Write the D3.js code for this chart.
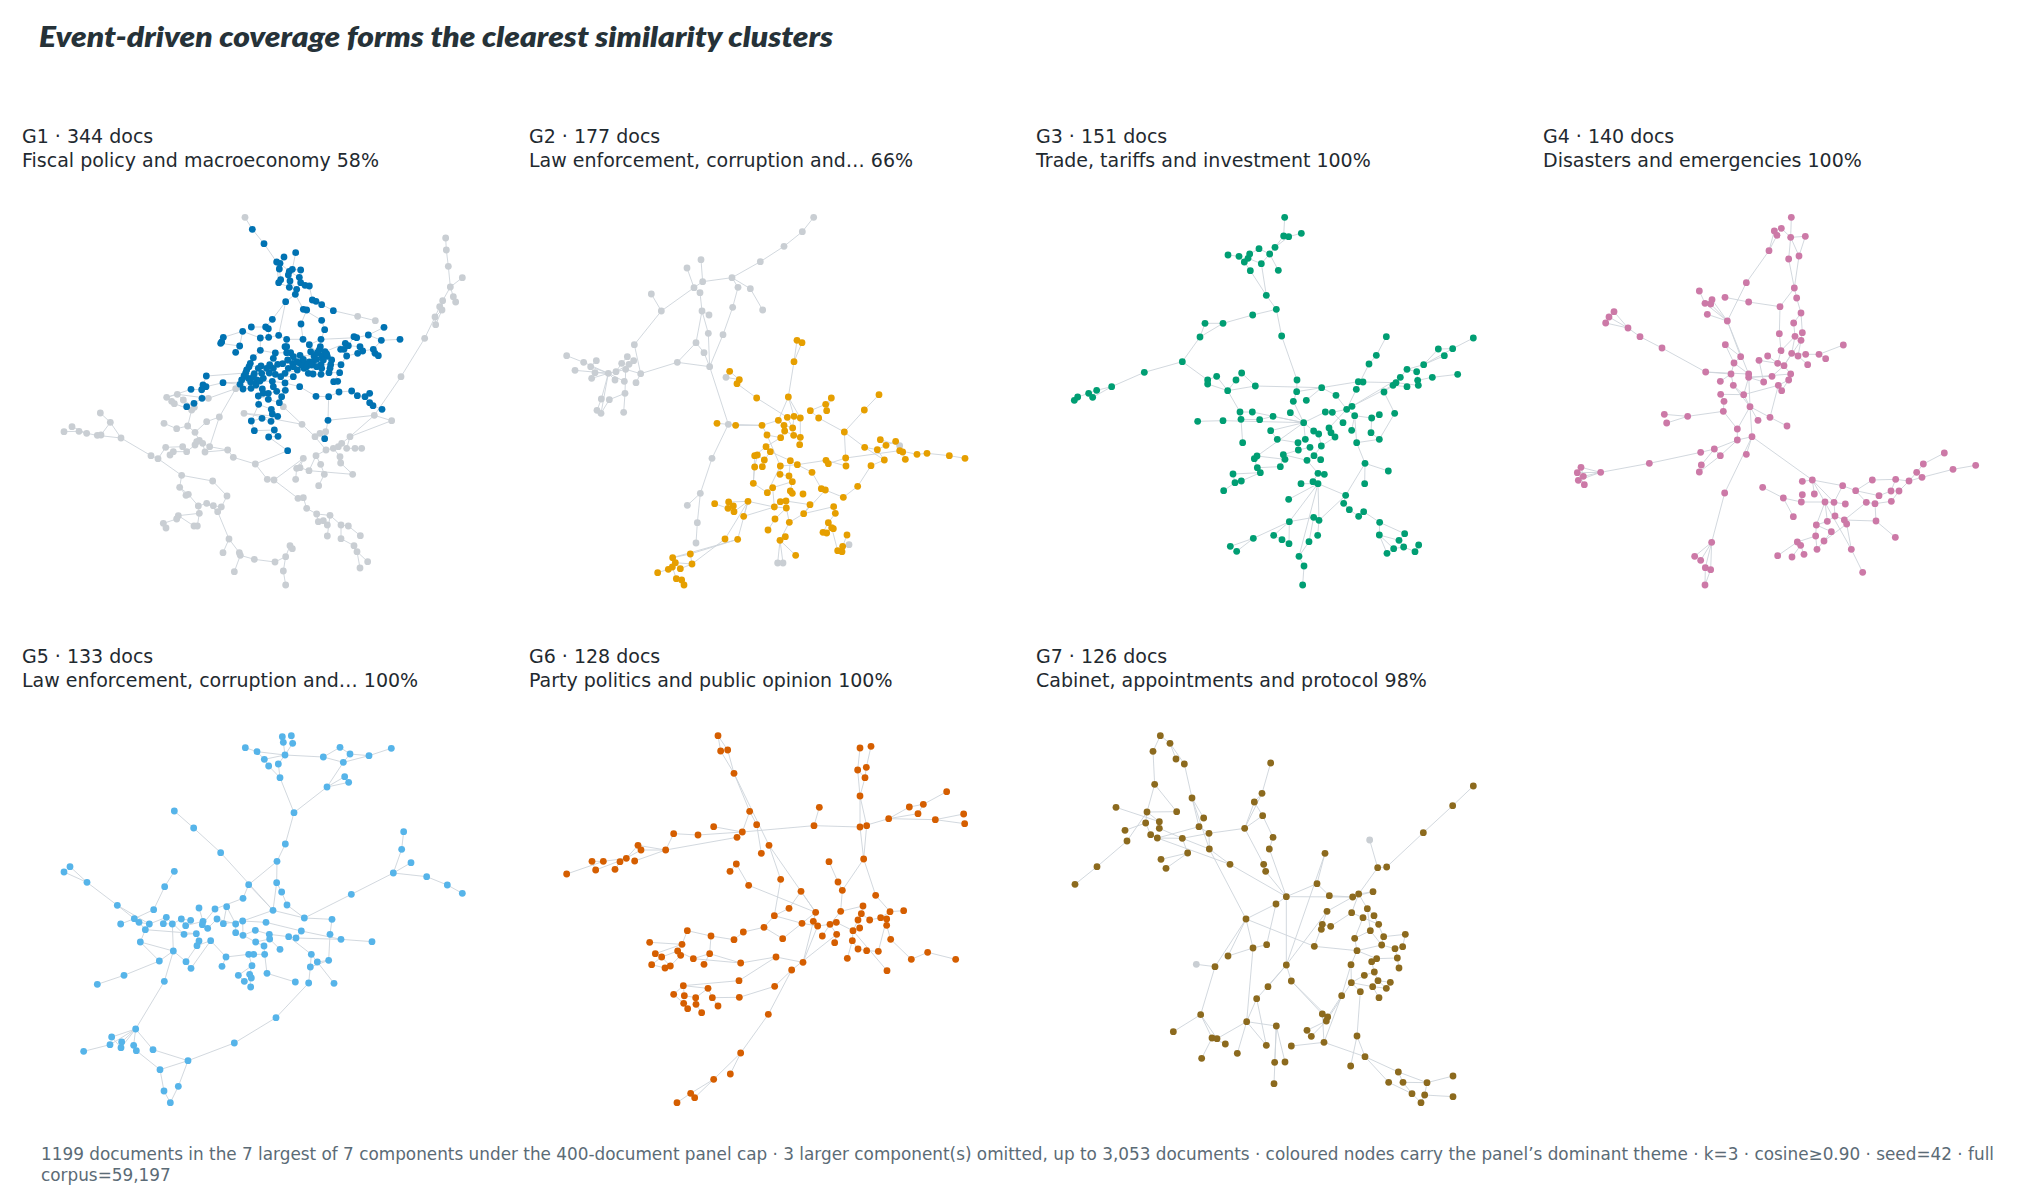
<!DOCTYPE html>
<html>
<head>
<meta charset="utf-8">
<script src="https://cdn.jsdelivr.net/npm/d3@7"></script>
<style>
  body { margin: 0; background: #fff; }
  svg  { display: block; }
</style>
</head>
<body>
<svg id="chart" width="2040" height="1200"></svg>
<script>
/* ─────────────────────────────────────────
   Panel headers
───────────────────────────────────────── */
const panelIds    = ['G1', 'G2', 'G3', 'G4', 'G5', 'G6', 'G7'];
const panelDocs   = [344, 177, 151, 140, 133, 128, 126];
const panelThemes = [
  'Fiscal policy and macroeconomy',
  'Law enforcement, corruption and\u2026',
  'Trade, tariffs and investment',
  'Disasters and emergencies',
  'Law enforcement, corruption and\u2026',
  'Party politics and public opinion',
  'Cabinet, appointments and protocol',
];
const panelShares = ['58%', '66%', '100%', '100%', '100%', '100%', '98%'];
const themeColors = ['#0072B2', '#E69F00', '#009E73', '#CC79A7', '#56B4E9', '#D55E00', '#8C6A1E'];

/* ─────────────────────────────────────────
   Node layouts (layout units 0..1320 x 0..1200)
   [id, x, y]; links are chains of ids joined by '-'
───────────────────────────────────────── */
const g1ThemeNodes = [
  ['b1',637,88],['b2',672,131],['b3',767,158],['b4',732,171],['b5',710,186],['b6',718,207],['b7',720,190],['b8',748,214],
  ['b9',757,208],['b10',782,210],['b11',722,239],['b12',716,248],['b13',745,225],['b14',750,243],['b15',778,232],['b16',782,248],
  ['b17',795,256],['b18',808,258],['b19',770,268],['b20',748,262],['b21',766,283],['b22',737,305],['b23',817,300],['b24',828,304],
  ['b25',845,314],['b26',790,328],['b27',800,330],['b28',880,332],['b29',845,361],['b30',697,358],['b31',783,372],['b32',854,389],
  ['c1',634,381],['c2',608,394],['c3',677,381],['c4',685,386],['c5',716,406],['c6',661,414],['c7',686,412],['c8',550,412],
  ['c9',545,426],['c10',542,430],['c11',599,438],['c12',587,457],['c13',661,451],['c14',740,418],['c15',735,440],['c16',789,418],
  ['c17',808,434],['c18',843,418],['c19',841,440],['c20',855,455],['c21',832,458],['c22',640,473],['c23',706,459],['c24',740,458],
  ['c25',752,458],['c26',780,466],['c27',822,468],['c28',846,468],['c29',862,469],['c30',875,480],['c31',631,490],['c32',627,500],
  ['c33',663,498],['c34',689,494],['c35',713,493],['c36',728,491],['c37',758,490],['c38',778,488],['c39',794,490],['c40',808,486],
  ['c41',820,484],['c42',843,494],['c43',872,494],['c44',903,494],['c45',617,519],['c46',643,521],['c47',665,520],['c48',688,519],
  ['c49',706,523],['c50',735,520],['c51',772,510],['c52',792,505],['c53',819,522],['c54',843,523],['c55',867,518],['c56',899,518],
  ['c57',632,546],['c58',660,543],['c59',697,544],['c60',735,549],['c61',779,560],['c62',881,545],['c63',893,544],['c64',609,567],
  ['c65',633,565],['c66',667,567],['c67',685,580],['c68',710,574],['c69',736,571],['c70',655,588],['c71',685,598],['c72',718,608],
  ['c73',656,613],['c74',694,628],['c75',713,649],['c76',697,642],['c77',634,663],['c78',666,655],['c79',693,664],['c80',643,692],
  ['c81',703,690],['c82',686,711],['c83',714,709],['c84',743,752],['c85',828,589],['c86',866,590],['c87',897,576],['c88',864,661],
  ['c89',854,716],['c90',935,573],['c91',952,587],['c92',975,590],['c93',989,580],['c94',989,608],['c95',999,617],['c96',1026,628],
  ['d1',942,410],['d2',950,413],['d3',985,405],['d4',1032,382],['d5',1080,418],['d6',1024,421],['d7',916,430],['d8',912,448],
  ['d9',925,437],['d10',960,440],['d11',920,468],['d12',953,460],['d13',968,453],['d14',1000,448],['d15',1005,460],['d16',1015,467],
  ['d17',902,448],
  ['e1',499,528],['e2',489,555],['e3',498,560],['e4',485,569],['e5',453,568],['e6',549,548],['e7',486,595],['e8',462,610],
  ['e9',440,620],['e10',600,553],
  ['f1',620,510],['f2',612,528],['f3',625,535],['f4',640,530],['f5',650,540],['f6',648,555],['f7',670,535],['f8',680,505],
  ['f9',700,505],['f10',722,530],['f11',745,505],['f12',760,500],['f13',785,495],['f14',800,500],['f15',815,495],['f16',830,478],
  ['f17',850,480],['f18',860,462],['f19',838,450],['f20',830,500],['f21',805,520],['f22',760,530],['f23',770,485],['f24',790,478],
  ['f25',743,480],['f26',655,505],['f27',605,540],['f28',670,580],['f29',700,560],['f30',725,590],['f31',760,470],['f32',812,455],
  ['f33',870,505],['f34',845,505],['f35',740,440],['f36',700,475],
];
const g1OtherNodes = [
  ['g1',615,52],['g2',1217,114],['g3',1219,150],['g4',1225,199],['g5',1267,233],['g6',1231,261],['g7',1240,290],['g8',1247,306],
  ['g9',1208,302],['g10',1199,320],['g11',1206,330],['g12',1185,351],['g13',1187,374],['g14',1154,415],['g15',1083,530],['g16',1003,646],
  ['g17',1055,662],['g18',953,349],['g19',1006,362],
  ['h1',380,592],['h2',395,604],['h3',412,583],['h4',403,611],['h5',430,600],['h6',505,595],['h7',587,566],['h8',538,651],
  ['h9',455,630],['h10',463,622],['h11',372,670],['h12',410,686],['h13',443,678],['h14',465,697],['h15',478,721],['h16',488,730],
  ['h17',509,740],['h18',465,735],['h19',440,755],['h20',428,740],['h21',400,755],['h22',390,765],['h23',377,742],['h24',495,756],
  ['h25',563,750],['h26',580,772],['h27',646,792],['h28',181,639],['h29',211,667],['h30',243,714],['h31',183,705],['h32',172,706],
  ['h33',140,700],['h34',117,694],['h35',96,680],['h36',72,695],['h37',333,767],['h38',354,776],['h39',425,826],['h40',518,843],
  ['h41',419,862],['h42',445,883],['h43',438,886],['h44',561,888],['h45',475,918],['h46',500,910],['h47',520,917],['h48',544,921],
  ['h49',533,935],['h50',478,940],['h51',415,947],['h52',410,957],['h53',370,970],['h54',378,984],['h55',462,978],['h56',472,978],
  ['h57',567,1017],['h58',549,1058],['h59',598,1058],['h60',601,1066],['h61',643,1078],['h62',705,1086],['h63',737,1070],['h64',750,1037],
  ['h65',757,1046],['h66',730,1113],['h67',737,1155],['h68',583,1115],['h69',682,838],['h70',702,840],['h71',730,620],['h72',786,673],
  ['h73',825,710],['h74',840,700],['h75',857,695],['h76',790,775],['h77',770,805],['h78',780,803],['h79',767,838],['h80',807,812],
  ['h81',828,767],['h82',842,793],['h83',853,823],['h84',836,857],['h85',858,750],['h86',880,745],['h87',895,740],['h88',905,730],
  ['h89',920,745],['h90',930,710],['h91',945,745],['h92',965,745],['h93',900,770],['h94',902,789],['h95',938,823],['h96',774,895],
  ['h97',790,893],['h98',800,925],['h99',830,942],['h100',835,965],['h101',850,962],['h102',862,975],['h103',870,946],['h104',862,1008],
  ['h105',903,975],['h106',925,978],['h107',903,1016],['h108',961,1007],['h109',942,1037],['h110',951,1055],['h111',983,1085],['h112',960,1104],
  ['h113',612,640],['h114',500,665],['h115',470,725],
];
const g1Links = ('g1-b1-b2-b5-b6-b11 b4-b7-b8-b13-b14 b3-b9-b10 b5-b12 b8-b15-b16-b17 b9-b13 b12-b20-b19-b21 b14-b19 b17-b18 b16-b19 ' +
  'b21-b22 b21-b26-b27 b18-b23-b24-b25 b24-b28 b26-b29 b27-b31 b29-b32 b22-b30 b15-b17 g2-g3-g4-g6-g9-g10-g12-g14-g15-g16-g17 ' +
  'g5-g6 g7-g8 g6-g7 g9-g11-g12 g11-g13 g12-g13 b28-g18-g19 b22-c5 b30-c3 c1-c3-c4-c7-c5 c2-c6 c6-c7 c5-c14-c15 c14-c16-c17-c18-c19-c20 ' +
  'c17-c21 c8-c9-c10-c11 c11-c12 c6-c13-c22 c13-c23-c24-c25-c26-c27-c28-c29-c30 c15-c24 c19-c28 c21-c27 ' +
  'c22-c31-c32-c33-c34-c35-c36-c37-c38-c39-c40-c41-c42-c43-c44 c30-c43 c31-c45-c46-c47-c48-c49-c50-c51-c52-c53-c54-c55-c56 c44-c56 ' +
  'c45-c57-c58-c59-c60-c61 c56-c62-c63 c57-c64-c65-c66-c67-c68-c69 c66-c70-c71-c72 c70-c73-c74-c75 c74-c76 c73-c77-c78-c79 ' +
  'c77-c80-c81-c82-c83 c82-c84 c61-c85-c86-c87 c86-c88-c89 c87-c90-c91-c92-c93 c92-c94-c95-c96 d1-d2-d3-d4 d3-d6-d5 d7-d8-d9-d10 ' +
  'd9-d1 d10-d12-d13-d14-d15-d16 d11-d12 d17-d8 d11-c44 d2-c18 d7-c20 d14-d6 e1-e2-e3-e4-e5 e3-e6-c57 e4-e7-e8-e9 e6-e10-c64 e1-c45 ' +
  'f1-f2-f3-f4-f5-f6 f4-f7-f8-f9 f8-c34 f9-c35 f10-f22-c60 f11-f12-f13-f14-f15 f15-f16-f17 f17-f18-f19 f20-f21 f13-f20 f23-f24 f12-f23 ' +
  'f25-c36 f26-c33 f27-c64 f28-c70 f29-c68 f30-c72 f31-c26 f32-c27 f33-c55 f34-c54 f35-c15 f36-c35 f1-c45 f3-c57 f5-c58 f7-c47 ' +
  'f10-c50 f14-c52 f16-c41 f19-c21 f21-c53 f22-c51 f24-c39 f29-c59 f30-c69 f31-c25 f32-c19 f33-c43 f34-c42 f35-c24 f36-c23 c2-c11 ' +
  'c8-c2 b31-c16 b32-c18 c88-g16 e9-h5-h3-h1-h2-h4 h5-h10-h9-h13 h4-h9 h3-h6-e7 h7-c64 h7-h8-h17-h25 h8-h114-h14 ' +
  'h11-h12-h13-h14-h15-h16-h17 h15-h18-h19-h20 h18-h115 h19-h21-h22 h20-h23 h16-h24-h25-h26-h27-h69-h70 h28-h29-h30-h37-h38 h29-h31 ' +
  'h30-h32-h33-h34-h36 h33-h35 h38-h23 h38-h39-h41-h43 h39-h40-h44-h48-h47-h46-h45-h50 h45-h42-h41 h48-h49-h57-h58 h46-h49 ' +
  'h50-h51-h52-h53-h54 h55-h56-h50 h51-h55 h57-h59-h60-h61-h62-h63-h64-h65 h63-h66-h67 h60-h68 h70-h96-h97-h98-h99-h100-h101-h102 ' +
  'h99-h103-h105-h106-h108 h103-h104 h105-h107-h109-h110-h111 h110-h112 h70-h76-h78-h80-h95 h76-h77-h79 h71-h72-h73-h74-h75 ' +
  'h72-h113-c75 h73-h85-h86-h87-h88-h89-h91-h92 h88-h90-g16 h86-h93-h94-h95 h85-h81-h82-h83-h84 h80-h81 h71-c72 h6-h7 e5-h1 ' +
  'h27-c84 h89-h90 g17-h90').split(' ');

const g2ThemeNodes = [
  ['o1',747,421],['o2',762,428],['o3',738,485],['o4',545,514],['o5',574,539],['o6',567,551],['o7',626,594],['o8',721,591],
  ['o9',993,584],['o10',949,630],['o11',889,696],['o12',850,594],['o13',833,613],['o14',836,632],['o15',787,632],['o16',812,654],
  ['o17',691,661],['o18',718,652],['o19',738,649],['o20',757,654],['o21',708,676],['o22',734,684],['o23',710,693],['o24',737,706],
  ['o25',757,712],['o26',698,713],['o27',657,705],['o28',755,734],['o29',507,670],['o30',563,676],['o31',642,676],['o32',654,740],
  ['o33',667,755],['o34',620,767],['o35',628,765],['o36',649,780],['o37',620,801],['o38',643,800],['o39',727,782],['o40',697,798],
  ['o41',748,794],['o42',696,823],['o43',723,828],['o44',616,850],['o45',733,845],['o46',727,873],['o47',674,863],['o48',658,878],
  ['o49',733,880],['o50',792,817],['o51',765,882],['o52',834,781],['o53',841,791],['o54',893,774],['o55',894,798],['o56',950,742],
  ['o57',988,749],['o58',1014,736],['o59',997,719],['o60',1043,724],['o61',1055,752],['o62',1064,756],['o63',1072,778],['o64',1009,780],
  ['o65',969,797],['o66',929,859],['o67',1107,763],['o68',1137,760],['o69',1204,767],['o70',1251,775],['o71',820,866],['o72',832,870],
  ['o73',886,892],['o74',600,904],['o75',542,906],['o76',556,918],['o77',540,925],['o78',500,911],['o79',558,935],['o80',587,949],
  ['o81',679,921],['o82',697,905],['o83',714,903],['o84',786,914],['o85',715,924],['o86',767,941],['o87',681,957],['o88',724,967],
  ['o89',660,990],['o90',857,920],['o91',862,940],['o92',841,968],['o93',856,986],['o94',825,997],['o95',836,999],['o96',851,983],
  ['o97',696,1021],['o98',712,1010],['o99',743,1066],['o100',897,1005],['o101',869,1052],['o102',882,1055],['o103',884,1039],['o104',531,1017],
  ['o105',569,1018],['o106',427,1062],['o107',432,1092],['o108',374,1073],['o109',382,1088],['o110',361,1108],['o111',397,1106],['o112',329,1118],
  ['o113',373,1101],['o114',385,1136],['o115',401,1140],['o116',408,1155],
];
const g2OtherNodes = [
  ['g1',797,52],['g2',763,95],['g3',708,139],['g4',637,185],['g5',552,233],['g6',464,245],['g7',459,179],['g8',417,204],
  ['g9',438,263],['g10',456,278],['g11',570,262],['g12',607,266],['g13',644,330],['g14',554,322],['g15',525,404],['g16',310,282],
  ['g17',340,333],['g18',462,333],['g19',483,345],['g20',481,400],['g21',444,428],['g22',468,458],['g23',485,500],['g24',388,487],
  ['g25',259,434],['g26',278,521],['g27',56,467],['g28',107,487],['g29',145,482],['g30',128,500],['g31',81,511],['g32',141,518],
  ['g33',131,535],['g34',181,520],['g35',204,515],['g36',221,490],['g37',238,470],['g38',243,493],['g39',257,482],['g40',233,508],
  ['g41',201,540],['g42',229,544],['g43',264,548],['g44',231,580],['g45',227,637],['g46',184,599],['g47',160,597],['g48',147,631],
  ['g49',159,640],['g50',541,673],['g51',492,775],['g52',457,880],['g53',418,916],['g54',448,968],['g55',444,1029],['g56',689,1089],
  ['g57',705,1089],['g58',903,1034],['g59',534,532],['g60',1055,737],
];
const g2Links = ('g1-g2-g3-g4-g5-g6-g9-g17-g25-g26 g7-g6 g8-g9 g5-g11-g14-g15-g23 g12-g13 g5-g12 g9-g10-g18-g21-g24 g18-g19 ' +
  'g18-g20-g23 g21-g22-g23 g24-g26 g24-g23 g16-g17 g27-g28-g34 g29-g30-g34 g31-g34 g32-g34 g33-g34 g34-g35-g36-g37 g35-g38-g39 ' +
  'g35-g40-g26 g34-g41 g34-g42 g40-g44-g45 g34-g47-g48-g49 g46-g44 g46-g49 g43-g26 g23-g50-g51-g52-g53 g52-g54-g55 g49-g34 ' +
  'o1-o2-o3-o8 o1-o3 o4-o5-o6-o7 o4-g59 g59-o5 o7-o18 o8-o17 o8-o19 o8-o20 o9-o10-o11-o56 o11-o54 o12-o13-o15 o12-o14 o15-o16-o11 ' +
  'o17-o21-o22-o19 o18-o22 o20-o25 o21-o23-o26-o27-o31-g50 o29-g50-o30-o31 o31-o17 o23-o24-o25-o28 o22-o24 o26-o32-o34-o35-o37-o44 ' +
  'o32-o33-o36-o38 o35-o36 o33-o39-o41-o40-o42-o43 o39-o43-o45-o46-o49 o41-o50 o41-o52-o53-o54 o52-o55 o50-o71-o72-o73-o66-o65 ' +
  'o56-o57-o58-o59 o56-o64-o65 o58-o60-o61-o62-o63 o61-o67-o68-o69-o70 o54-o61 o44-o48-o47-o45 o47-o81-o82-o83 o74-o80 o74-o81 ' +
  'o75-o76-o77 o78-o77 o79-o76 o74-o75 o74-o79 o81-o85-o87 o83-o84-o86 o85-o88-o86 o87-o89 o88-o97-o98 o97-o99 ' +
  'o86-o90-o91-o92-o93-o96-o95-o94 o92-o94 o96-o101-o102-o103-o100 o101-g58 o103-g58 o97-g56 o97-g57 o74-o104 o74-o105 ' +
  'o105-o106-o107-o111 o106-o108-o113-o110-o112 o109-o111 o113-o114-o115-o116 o109-o107 o105-o108 o104-o107 o40-o48 o34-o44 ' +
  'o60-g60 o59-g60 o64-o57 o27-o40 o72-o86 o80-o81').split(' ');

const g3ThemeNodes = [
  ['a1',683,52],['a2',680,108],['a3',695,110],['a4',733,100],['a5',654,142],['a6',638,162],['a7',606,146],['a8',578,162],
  ['a9',573,175],['a10',562,186],['a11',546,169],['a12',513,165],['a13',613,191],['a14',580,212],['a15',664,211],
  ['p1',628,286],['p2',658,328],['p3',587,345],['p4',498,370],['p5',444,370],['p6',429,411],['p7',376,485],['p8',262,517],
  ['p9',164,560],['p10',119,571],['p11',95,580],['p12',107,592],['p13',62,591],['p14',52,601],['p15',674,408],
  ['q1',720,540],['q2',719,575],['q3',709,604],['q4',748,601],['q5',794,563],['q6',837,586],['q7',740,668],['q8',700,638],
  ['q9',805,636],['q10',826,637],['q11',869,628],['q12',885,619],['q13',893,647],['q14',858,668],['q15',884,691],['q16',899,728],
  ['q17',944,654],['q18',967,644],['q19',942,698],['q20',967,718],['q21',1013,640],['q22',898,568],['q23',904,545],['q24',918,546],
  ['q25',936,492],['q26',958,466],['q27',988,410],
  ['r1',479,529],['r2',452,540],['r3',452,552],['r4',512,572],['r5',537,540],['r6',554,519],['r7',595,558],['r8',549,636],
  ['r9',586,636],['r10',552,658],['r11',608,659],['r12',648,649],['r13',422,664],['r14',498,662],['r15',641,692],['r16',661,718],
  ['r17',557,728],
  ['s1',770,693],['s2',785,702],['s3',745,718],['s4',723,728],['s5',793,738],['s6',759,742],['s7',724,750],['s8',816,684],
  ['s9',822,698],['s10',834,711],['s11',679,764],['s12',684,778],['s13',750,781],['s14',771,767],['s15',791,779],['s16',600,768],
  ['s17',592,776],['s18',601,803],['s19',610,818],['s20',670,800],['s21',528,822],['s22',534,848],['s23',553,843],['s24',500,872],
  ['s25',783,820],['s26',802,823],['s27',768,845],['s28',783,851],['s29',732,851],['s30',695,898],['s31',924,790],['s32',994,813],
  ['s33',923,851],['s34',866,886],['s35',860,910],['s36',877,929],['s37',905,949],['s38',920,935],
  ['t1',981,576],['t2',1008,556],['t3',1017,548],['t4',1030,532],['t5',1050,508],['t6',1079,515],['t7',1082,541],['t8',1084,556],
  ['t9',1050,560],['t10',1100,494],['t11',1126,532],['t12',1202,523],['t13',1144,447],['t14',1162,467],['t15',1187,446],['t16',1249,414],
  ['u1',697,965],['u2',770,952],['u3',786,961],['u4',650,1006],['u5',675,1019],['u6',696,1031],['u7',756,1025],['u8',782,1006],
  ['u9',589,1015],['u10',520,1039],['u11',539,1054],['u12',726,1069],['u13',741,1098],['u14',737,1155],
  ['v1',968,967],['v2',967,1005],['v3',1043,1001],['v4',1026,1021],['v5',1040,1041],['v6',1010,1046],['v7',990,1060],['v8',1085,1035],
  ['v9',1074,1055],
];
const g3OtherNodes = [];
const g3Links = ('a1-a2-a5-a6-a13 a2-a3-a4 a6-a7-a8-a10-a11-a12 a9-a13 a10-a14 a6-a15 a5-a3 a14-p1-a13 ' +
  'p1-p2-p3-p4-p6-p7-p8-p9-p10-p11-p13-p14 p4-p5-p6 p10-p12-p11 p9-p12 p2-p15-q1-q2-q3-q7 q2-q5-q4 q5-q23-q24-t3 q22-q25-q26-q27 ' +
  'q22-q11-q12-t2 q5-q6-q11 q7-q9-q10-q11-q13-q17-q18 q17-q19-q20-q21-t1 q13-q16-q20 q14-q10 q15-q13 q8-q7 q12-t4 ' +
  'p7-r2-r3-r4-r7-q5 r1-r2 r1-r4 r5-r6-r7 r5-r4 r8-r9-q7 r13-r14-q7 r10-r11-r12-q7 r10-r17 r15-q7 r15-r16-s4 r8-r4 r10-r8 ' +
  'q7-s1-s2-s5-s14-s13 s14-s15 s3-s4-s7-s6 s3-q7 s8-s9-s10-s5 s8-q11 s11-s12-s16-s17-s18-s19-s21-s22-s24 s22-s23-s19 s11-s20 ' +
  's11-s13-s25-s26 s25-s27-s28-s29 s28-s30 s28-s34-s35-s36-s37-s38-v1 s34-s31-q16 s31-s32 s31-s33 s11-s7 s16-q7 s20-s18 ' +
  't1-t2-t3-t4-t5-t10-t13 t10-t14 t10-t15-t16 t6-t7-t8 t9-t2 t7-t11-t12 t5-t6 t13-t15 t8-t3 s28-u1-u2-u3-s28 u1-u9-u10 u9-u11 ' +
  'u1-u4-u5 u1-u6 u5-u6 u2-u7-u12-u13-u14 u3-u8 s34-u3 u12-s28 v1-v2-v7 v2-v4-v5-v6-v7 v3-v4 v8-v9-v5 v3-v1 v2-v6').split(' ');

const g4ThemeNodes = [
  ['a1',679,52],['a2',649,85],['a3',628,93],['a4',636,106],['a5',677,112],['a6',721,109],['a7',612,152],['a8',671,177],
  ['a9',702,168],['a10',688,264],['a11',695,294],['a12',708,339],['a13',686,369],['a14',712,398],['a15',690,409],['a16',708,421],
  ['a17',645,320],['a18',643,401],['a19',648,452],['a20',680,460],['a21',699,468],['a22',722,463],['a23',762,463],['a24',782,476],
  ['a25',835,435],['a26',728,494],['a27',638,490],['a28',657,497],['a29',677,522],['a30',671,540],['a31',640,556],['a32',650,572],
  ['a33',621,529],['a34',608,468],['a35',582,481],
  ['b1',544,248],['b2',487,363],['b3',403,273],['b4',420,310],['b5',551,306],['b6',480,292],['b7',437,312],['b8',441,299],
  ['b9',427,343],
  ['c1',147,335],['c2',132,351],['c3',122,369],['c4',189,384],['c5',225,410],['c6',291,444],['c7',422,516],
  ['d1',481,434],['d2',527,470],['d3',507,489],['d4',551,522],['d5',551,532],['d6',498,522],['d7',466,544],['d8',505,556],
  ['d9',536,584],['d10',596,546],['d11',467,583],['d12',477,604],['d13',555,620],['d14',475,634],['d15',368,649],['d16',298,643],
  ['d17',305,669],['d18',579,661],['d19',615,652],['d20',666,678],['d21',517,687],['d22',561,710],['d23',517,720],['d24',448,747],
  ['d25',407,757],['d26',466,767],['d27',409,795],['d28',403,816],['d29',544,763],['d30',253,790],['d31',107,817],['d32',48,802],
  ['d33',37,818],['d34',55,829],['d35',40,841],['d36',58,854],['d37',479,879],['d38',440,1027],['d39',389,1069],['d40',407,1081],
  ['d41',421,1103],['d42',437,1109],['d43',420,1155],
  ['e1',742,840],['e2',712,844],['e3',593,862],['e4',655,894],['e5',712,884],['e6',709,906],['e7',748,882],['e8',780,906],
  ['e9',807,907],['e10',833,857],['e11',841,912],['e12',872,872],['e13',904,907],['e14',930,911],['e15',942,887],['e16',922,840],
  ['e17',978,873],['e18',1002,873],['e19',979,904],['e20',992,838],['e21',1032,843],['e22',1055,817],['e23',1071,832],['e24',1075,792],
  ['e25',1138,759],['e26',1164,808],['e27',1232,796],['e28',685,950],['e29',754,975],['e30',787,964],['e31',810,948],['e32',838,960],
  ['e33',845,972],['e34',933,963],['e35',991,1012],['e36',752,1008],['e37',799,995],['e38',697,1026],['e39',707,1036],['e40',777,1023],
  ['e41',638,1067],['e42',681,1071],['e43',717,1063],['e44',756,1048],['e45',859,1048],['e46',893,1117],
];
const g4OtherNodes = [];
const g4Links = ('a1-a5-a2-a3-a4 a5-a6 a5-a8 a6-a9 a3-a7 a4-a7 a5-a9 a8-a10 a9-a10 a10-a11-a12-a13-a15-a20 a12-a14-a16-a21 ' +
  'a10-a17-a18-a19-a27 a15-a19 a20-a22-a23-a25 a23-a24 a21-a26 a20-a28 a16-a28 a28-a29-a30-a31 a28-a33 a27-a34 a27-a28 a35-a27 ' +
  'a31-a32 a30-a32 a7-b1-b2 b3-b4-b2 b8-b2 b7-b2 b9-b2 b6-b5-a17 b4-b7 b8-b7 c1-c4 c2-c4 c3-c4 c1-c3 c4-c5-c6-c7 d1-d3 ' +
  'b2-d2-d3-d6 b2-d4 d3-d4-d5-d9 c7-d6-d7 c7-d4 d6-d8-d9 d5-a33 d5-d10 d9-a31 d9-d11-d12 d9-d13 d12-d14-d15-d16 d15-d17 d13-d18 ' +
  'd19-d20 d13-d19 d19-a31 d13-d21-d23 d21-d14 d13-d22 d22-d23-d26 d23-d24-d25-d30-d31 d24-d26 d24-d27 d26-d28 d22-d29 d31-d32 ' +
  'd31-d33 d31-d34 d31-d35 d33-d36 d32-d33 d22-d37-d38-d39 d38-d40 d38-d41 d38-d42 d41-d43 d42-d43 d34-d32 a35-d10 a29-d5 d8-d13 ' +
  'd2-d1 d13-d4 d22-e1-e10-e12-e15-e17-e20-e21-e22-e24-e25 e22-e23-e26-e27 e1-e2 e1-e7 e1-e9-e8-e6-e5 e3-e4-e6 e4-e28 ' +
  'e8-e29-e36-e38 e9-e31-e30-e29 e9-e11 e10-e9 e12-e13-e14-e34-e35 e14-e19-e18-e17 e20-e16-e12 e21-e23 e31-e32-e34 e32-e33-e40 ' +
  'e33-e45-e46 e29-e37-e40-e44 e38-e41 e38-e39-e42 e39-e43 e13-e32 e18-e21 e30-e8 e1-e45 e44-e36').split(' ');

const g5ThemeNodes = [
  ['a1',727,50],['a2',754,47],['a3',730,67],['a4',758,70],['a5',616,83],['a6',651,95],['a7',735,105],['a8',673,118],
  ['a9',715,132],['a10',686,138],['a11',720,173],['a12',850,111],['a13',900,82],['a14',930,102],['a15',910,127],['a16',987,107],
  ['a17',1054,85],['a18',914,170],['a19',926,187],['a20',861,201],['a21',762,278],
  ['b1',736,372],['b2',711,424],['b3',626,494],['b4',403,273],['b5',461,324],['b6',542,398],['b7',710,488],['b8',725,516],
  ['b9',741,555],['b10',699,571],['b11',609,535],
  ['c1',90,440],['c2',72,456],['c3',141,487],['c4',232,556],['c5',403,454],['c6',374,500],['c7',341,569],['c8',283,596],
  ['c9',297,607],['c10',242,612],['c11',316,629],['c12',328,612],['c13',301,666],['c14',379,592],['c15',370,611],['c16',397,612],
  ['c17',424,597],['c18',452,601],['c19',432,643],['c20',437,617],['c21',477,564],['c22',489,604],['c23',487,614],['c24',503,625],
  ['c25',469,641],['c26',477,663],['c27',471,677],['c28',512,662],['c29',525,567],['c30',560,560],['c31',531,597],['c32',550,611],
  ['c33',400,693],['c34',358,723],['c35',252,766],['c36',172,793],['c37',438,725],['c38',453,745],['c39',373,784],
  ['d1',587,612],['d2',608,603],['d3',587,638],['d4',609,646],['d5',646,631],['d6',678,607],['d7',647,666],['d8',672,678],
  ['d9',688,643],['d10',689,657],['d11',720,688],['d12',746,650],['d13',768,654],['d14',784,633],['d15',793,594],['d16',876,598],
  ['d17',870,643],['d18',903,658],['d19',996,665],['d20',558,711],['d21',546,739],['d22',626,703],['d23',641,703],['d24',674,703],
  ['d25',636,737],['d26',629,763],['d27',634,774],['d28',595,766],['d29',613,784],['d30',632,801],['d31',681,760],['d32',766,786],
  ['d33',814,703],['d34',832,726],['d35',866,721],['d36',811,741],['d37',806,789],['d38',882,790],['d39',934,523],['d40',1060,459],
  ['d41',1085,388],['d42',1091,335],['d43',1113,428],['d44',1160,470],['d45',1222,495],['d46',1267,520],
  ['e1',708,893],['e2',583,969],['e3',444,1022],['e4',287,927],['e5',215,951],['e6',245,966],['e7',210,974],['e8',243,983],
  ['e9',281,976],['e10',289,992],['e11',339,989],['e12',131,994],['e13',360,1049],['e14',415,1099],['e15',372,1113],['e16',391,1148],
];
const g5OtherNodes = [];
const g5Links = ('a1-a3-a7 a2-a4-a7 a5-a6-a7 a7-a8-a10-a11 a7-a9-a11 a7-a12-a13-a14-a15 a12-a15-a16-a17 a14-a16 a11-a21-a20-a18 ' +
  'a20-a19 a15-a20 a6-a8 a21-b1-b2-b3 b2-b7-b8-b9 b4-b5-b6-b10 b3-b11 b3-b10 b7-b10 c1-c3-c4-c8-c9 c2-c3 c5-c6-c7-c8 c4-c12 ' +
  'c8-c10 c9-c11-c13 c9-c12-c14-c15-c16-c17-c18-c20 c16-c33 c14-c19 c17-c20-c22-c23-c24 c21-c22 c19-c25-c26-c27 c29-c23 c30-c32 ' +
  'c31-c24 c27-c28 c13-c34 c33-c34-c35-c36 c33-c39 c33-c37 c27-c37 c38-c37 c13-c33 c11-c25 c28-c38 b9-d15 c32-d2-d6 ' +
  'c30-d1-d3-d4-d5 d2-d4 d5-d9-d12-d13-d18-d19 d13-d14 d15-d16-d17 d15-d39-d40-d41-d42 d40-d43 d40-d44-d45-d46 d7-d8 d4-d7-d10 ' +
  'd8-d24-d23-d22 d22-d25-d26-d27 d22-d20-d21 d20-c28 d25-d28-d29 d26-d30 d24-d31-d32 d11-d10 d12-d33-d34-d35-d17 d33-d36-d37 ' +
  'd34-d38 d37-e1 b10-d15 b10-d2 d6-d14 c29-b11 d18-d14 d1-c31 d36-d35 e1-e2-e3-e11 c39-e4 e4-e5 e4-e6 e4-e7 e4-e8 e4-e9-e10 ' +
  'e4-e11 e7-e12 e3-e13-e15-e16 e3-e14-e16 e10-e13 e5-e8').split(' ');

const g6ThemeNodes = [
  ['a1',510,47],['a2',518,93],['a3',539,90],['a4',558,160],['a5',605,274],['a6',626,314],['a7',583,336],['a8',567,352],
  ['a9',663,376],['a10',640,400],['a11',497,320],['a12',450,345],['a13',377,341],['a14',353,390],['a15',270,376],['a16',279,390],
  ['a17',235,415],['a18',216,425],['a19',260,423],['a20',166,424],['a21',132,424],['a22',143,450],['a23',201,448],['a24',56,462],
  ['b1',798,317],['b2',814,262],['b3',936,321],['b4',956,317],['b5',1022,296],['b6',1084,261],['b7',1126,253],['b8',1110,281],
  ['b9',1162,299],['b10',1196,215],['b11',1247,282],['b12',1250,311],['b13',936,84],['b14',969,79],['b15',929,150],['b16',955,142],
  ['b17',951,173],['b18',936,228],['b19',947,417],
  ['c1',843,425],['c2',870,486],['c3',883,511],['c4',983,526],['c5',565,432],['c6',546,454],['c7',602,496],['c8',698,478],
  ['c9',759,514],['c10',723,565],['c11',679,587],['c12',803,577],['c13',878,574],['c14',945,558],['c15',940,581],['c16',930,600],
  ['c17',965,600],['c18',998,593],['c19',1026,575],['c20',1067,572],['c21',1016,597],['c22',1016,616],['c23',935,624],['c24',915,632],
  ['c25',865,607],['c26',846,613],['c27',796,604],['c28',809,618],['c29',762,610],['c30',823,648],['c31',866,643],['c32',860,668],
  ['c33',913,662],['c34',930,687],['c35',956,692],['c36',991,694],['c37',898,715],['c38',1017,752],['c39',1028,658],['c40',1090,718],
  ['c41',1139,697],['c42',1223,718],['c43',648,622],['c44',704,656],['c45',586,636],['c46',558,659],['c47',489,648],['c48',418,632],
  ['c49',402,673],['c50',305,667],['c51',389,693],['c52',398,706],['c53',322,701],['c54',341,711],['c55',311,734],['c56',351,744],
  ['c57',367,738],['c58',436,716],['c59',485,701],['c60',468,733],['c61',578,729],['c62',684,711],['c63',765,727],['c64',731,750],
  ['c65',573,782],['c66',680,799],['c67',574,832],['c68',480,805],['c69',406,797],['c70',377,823],['c71',409,827],['c72',443,833],
  ['c73',444,853],['c74',493,833],['c75',510,858],['c76',407,850],['c77',419,866],['c78',461,878],['c79',661,883],['c80',578,999],
  ['c81',547,1062],['c82',497,1078],['c83',428,1120],['c84',440,1133],['c85',387,1148],
];
const g6OtherNodes = [];
const g6Links = ('a1-a2-a4 a1-a3-a4 a4-a5-a7 a5-a6 a4-a9 a7-a8 a7-a11 a7-a12-a13-a14 a8-a14 a14-a15-a17 a14-a16-a18 a14-a19 ' +
  'a17-a20-a21 a21-a22 a18-a23 a20-a24 a22-a17 a6-a10 a7-b1 b1-b2 b1-b3-b5-b6-b7-b10 b5-b8 b5-b9-b11 b9-b12 b8-b7 ' +
  'b13-b15-b18-b3 b14-b16-b17-b18 b18-b4-b19 b3-b19 b15-b17 c1-c2-c3-c13 b19-c3 b19-c4-c19 c5-c6 c5-c7-c12 a9-c8-c11 a9-c9-c12 ' +
  'c9-c10-c11 c12-c27-c28-c26-c13 c13-c14-c15-c16-c24 c15-c17-c18-c19-c20 c18-c21-c22 c23-c24-c25-c26 c24-c33-c34-c35-c36 c31-c32 ' +
  'c26-c31 c30-c26 c29-c28 c11-c29 c11-c43-c45-c46-c47-c48 c47-c59-c60 c48-c49-c50 c49-c51-c52 c49-c53 c51-c54-c55 c54-c57 c55-c56 ' +
  'c58-c59 c51-c58 c52-c57 c43-c44 c44-c12 c31-c64-c66 c64-c79-c80-c81 c80-c82-c83-c85 c82-c84-c83 c61-c62-c63-c12 c61-c58 c65-c62 ' +
  'c65-c69-c70-c76-c77 c69-c71-c72-c73-c78 c71-c76 c68-c74-c75 c68-c69 c68-c72 c67-c66 c67-c74 c39-c40-c41-c42 c22-c39 c33-c37 ' +
  'c36-c21 c38-c24 c63-c28 c59-c61 c9-c12').split(' ');

const g7ThemeNodes = [
  ['a1',310,47],['a2',339,70],['a3',288,94],['a4',357,117],['a5',382,132],['a6',293,193],['a7',405,234],['a8',177,262],
  ['a9',270,276],['a10',359,275],['a11',440,294],['a12',307,305],['a13',266,309],['a14',307,325],['a15',426,320],['a16',456,340],
  ['a17',204,331],['a18',281,344],['a19',301,354],['a20',376,355],['a21',210,363],['a22',457,387],['a23',392,399],['a24',312,418],
  ['a25',327,445],['a26',120,440],['a27',54,493],['a28',641,129],['a29',615,220],['a30',592,246],['a31',617,287],['a32',563,325],
  ['a33',648,352],['a34',637,387],['a35',519,433],['a36',620,433],['a37',626,454],['a38',688,530],['a39',657,552],['a40',567,597],
  ['b1',804,400],['b2',780,491],['b3',817,527],['b4',887,531],['b5',905,522],['b6',948,515],['b7',962,443],['b8',989,441],
  ['b10',1099,338],['b11',1187,257],['b12',1249,198],['b13',810,574],['b14',884,578],['b15',931,566],['b16',918,593],['b17',951,587],
  ['b18',965,613],['b19',796,613],['b20',793,628],['b21',821,619],['b22',940,632],['b23',893,655],['b24',980,650],['b25',1045,643],
  ['b26',772,679],['b27',900,692],['b28',974,675],['b29',1014,686],['b30',1037,680],['b31',959,716],['b32',944,725],['b33',1021,714],
  ['b34',1026,744],['b35',882,734],['b36',952,756],['b37',922,766],['b38',963,782],['b39',1000,787],['b40',883,788],['b41',947,800],
  ['b42',988,805],['b43',910,815],['b44',966,833],['b45',854,827],
  ['c1',688,735],['c2',703,783],['c3',633,800],['c4',599,836],['c5',629,674],['c6',588,684],['c7',513,708],['c8',474,740],
  ['c10',431,884],['c11',349,935],['c12',465,954],['c13',480,956],['c14',505,972],['c15',434,1015],['c16',541,1000],['c17',569,905],
  ['c18',658,918],['c19',628,976],['c20',653,1027],['c21',684,1026],['c22',651,1091],['c23',703,978],['c24',796,882],['c25',812,891],
  ['c26',808,903],['c27',750,931],['c28',763,949],['c29',801,967],['c30',900,948],['c31',881,1038],['c32',924,1010],['c33',1024,1056],
  ['c34',995,1087],['c35',1038,1087],['c36',1110,1088],['c37',1065,1121],['c38',1103,1125],['c39',1092,1148],['c40',1188,1068],['c41',1188,1130],
];
const g7OtherNodes = [['b9',938,360],['c9',418,733]];
const g7Links = ('a1-a2-a4 a1-a3-a6-a9-a13 a2-a5-a7-a11 a6-a10-a9 a7-a15-a16 a9-a12 a12-a14-a20-a16-a32 a13-a18-a19-a20 a17-a13 ' +
  'a8-a12 a9-a21-a26-a27 a20-a23-a24 a23-a25 a22-a16 a22-a35-a38 a20-a22 a19-a15 a28-a29-a30-a31-a33 a29-a32-a31 a32-a30 ' +
  'a32-a36-a37-a38 a34-a38 a34-a33 a22-a40 a19-a35 a38-a39-a40 a7-a22 a38-b2-b3-b4-b6 b1-b2 a38-b4 b5-b6 b4-b5 b5-b7-b8 b9-b7 ' +
  'b8-b10-b11-b12 b5-b14-b16-b18 b4-b13 b5-b15-b17 b13-b19-b20 b19-b21 b21-b14 b15-b22-b23 b17-b24-b25 b22-b28-b29-b30 b16-b23 ' +
  'b26-b27-b28 b24-b28 b23-b27-b31 b27-b35-b40-b43 b31-b32-b36 b31-b33-b34 b36-b38-b42 b38-b39 b36-b37-b40 b40-b41-b44 b41-b42 ' +
  'b35-b45 b29-b33 b30-b25 b26-b19 a38-c1 c1-b13 c1-b1 c1-c4 c1-c3 c2-c24-c29-b45 c2-c25 c5-c6 a40-c6-c17 a40-c8-c10-c12 c7-c6 ' +
  'c9-c8 c10-c11 c10-c13-c17 c12-c15 c12-c14 c17-c18-c20 c18-c21 c18-c22 c17-c19 c17-c16 c4-c19 c23-c29 c24-c25-c26-c27 c26-c28 ' +
  'c26-c24 c29-c32-c33-c36-c40 c30-c32 c32-c34-c37 c33-c35-c36-c38-c41 c35-c37-c39 c38-c39 b40-c26 b45-c25 c4-c17 b43-c30-c31 ' +
  'a40-b26 c5-a39 c1-c2 c7-a40').split(' ');

const panelNodes = [
  [g1ThemeNodes, g1OtherNodes, g1Links],
  [g2ThemeNodes, g2OtherNodes, g2Links],
  [g3ThemeNodes, g3OtherNodes, g3Links],
  [g4ThemeNodes, g4OtherNodes, g4Links],
  [g5ThemeNodes, g5OtherNodes, g5Links],
  [g6ThemeNodes, g6OtherNodes, g6Links],
  [g7ThemeNodes, g7OtherNodes, g7Links],
];

const footerLines = [
  '1199 documents in the 7 largest of 7 components under the 400-document panel cap \u00b7 3 larger component(s) omitted, up to 3,053 documents \u00b7 coloured nodes carry the panel\u2019s dominant theme \u00b7 k=3 \u00b7 cosine\u22650.90 \u00b7 seed=42 \u00b7 full',
  'corpus=59,197',
];

/* ─────────────────────────────────────────
   Layout
───────────────────────────────────────── */
const CFG = {
  colX:    [40, 548, 1057, 1565],   // left edge of each panel's node area
  headX:   [22, 529, 1036, 1543],   // left edge of each panel's header
  rowY:    [200, 720],
  plotW:   440,
  plotH:   400,
  layoutW: 1320,
  layoutH: 1200,
  r:       3.4,
  grey:    '#c9ced3',
  edge:    '#cdd4da',
  textCol: '#1f2a30',
};

const svg = d3.select('#chart');

svg.append('text')
  .attr('x', 39).attr('y', 47)
  .attr('textLength', 794)
  .attr('lengthAdjust', 'spacingAndGlyphs')
  .style('font-family', 'Lato, "Open Sans", sans-serif')
  .style('font-style', 'italic')
  .style('font-weight', 800)
  .style('font-size', '29px')
  .style('fill', '#263238')
  .text('Event-driven coverage forms the clearest similarity clusters');

panelNodes.forEach(([themeNodes, otherNodes, links], i) => {
  const col = i % 4, row = Math.floor(i / 4);
  const x0 = CFG.colX[col], y0 = CFG.rowY[row];

  const x = d3.scaleLinear().domain([0, CFG.layoutW]).range([x0, x0 + CFG.plotW]);
  const y = d3.scaleLinear().domain([0, CFG.layoutH]).range([y0, y0 + CFG.plotH]);

  const byId = new Map();
  otherNodes.forEach(([id, nx, ny]) => byId.set(id, { id, nx, ny, theme: false }));
  themeNodes.forEach(([id, nx, ny]) => byId.set(id, { id, nx, ny, theme: true }));

  const edges = [];
  links.forEach(chain => {
    const ids = chain.split('-');
    for (let k = 0; k < ids.length - 1; k++) {
      const a = byId.get(ids[k]), b = byId.get(ids[k + 1]);
      if (a && b) edges.push([a, b]);
      else console.warn('missing node', panelIds[i], ids[k], ids[k + 1]);
    }
  });

  const g = svg.append('g').attr('class', 'panel');

  /* header */
  const hx = CFG.headX[col];
  g.append('text')
    .attr('x', hx).attr('y', y0 - 57)
    .style('font-family', '"DejaVu Sans", sans-serif')
    .style('font-size', '19px')
    .style('fill', CFG.textCol)
    .text(`${panelIds[i]} \u00b7 ${panelDocs[i]} docs`);
  g.append('text')
    .attr('x', hx).attr('y', y0 - 33)
    .style('font-family', '"DejaVu Sans", sans-serif')
    .style('font-size', '19px')
    .style('fill', CFG.textCol)
    .text(`${panelThemes[i]} ${panelShares[i]}`);

  /* edges */
  g.append('g').selectAll('line')
    .data(edges).join('line')
    .attr('x1', d => x(d[0].nx)).attr('y1', d => y(d[0].ny))
    .attr('x2', d => x(d[1].nx)).attr('y2', d => y(d[1].ny))
    .style('stroke', CFG.edge)
    .style('stroke-width', 0.9);

  /* nodes: grey first, theme on top */
  const nodes = Array.from(byId.values()).sort((a, b) => a.theme - b.theme);
  g.append('g').selectAll('circle')
    .data(nodes).join('circle')
    .attr('cx', d => x(d.nx))
    .attr('cy', d => y(d.ny))
    .attr('r', CFG.r)
    .style('fill', d => d.theme ? themeColors[i] : CFG.grey);
});

svg.append('text')
  .attr('x', 41).attr('y', 1160)
  .style('font-family', '"DejaVu Sans", sans-serif')
  .style('font-size', '16.85px')
  .style('fill', '#5b6b76')
  .selectAll('tspan')
  .data(footerLines).join('tspan')
  .attr('x', 41)
  .attr('dy', (d, k) => k === 0 ? 0 : 21)
  .text(d => d);
</script>
</body>
</html>
